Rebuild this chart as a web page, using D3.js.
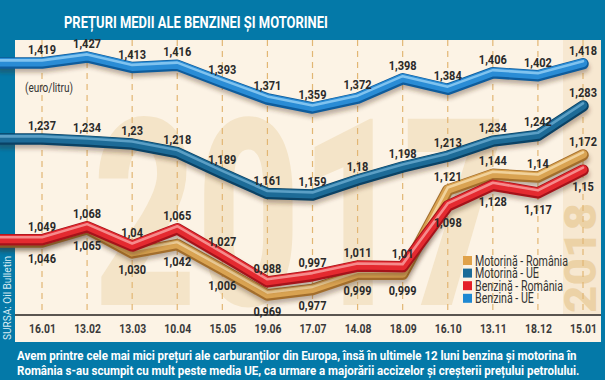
<!DOCTYPE html>
<html><head><meta charset="utf-8">
<script src="https://cdn.jsdelivr.net/npm/d3@7"></script>
<style>body{margin:0;background:#0479A8;} svg{display:block}</style>
</head><body>
<svg id="chart" width="605" height="380"></svg>
<script>
// ---------- DATA ----------
const dates = ["16.01","13.02","13.03","10.04","15.05","19.06","17.07","14.08","18.09","16.10","13.11","18.12","15.01"];
const benzinaUE  = ["1,419","1,427","1,413","1,416","1,393","1,371","1,359","1,372","1,398","1,384","1,406","1,402","1,418"];
const motorinaUE = ["1,237","1,234","1,23","1,218","1,189","1,161","1,159","1,18","1,198","1,213","1,234","1,242","1,283"];
const motorinaRO = ["1,046","1,065","1,030","1,042","1,006","0,969","0,977","0,999","0,999","1,121","1,144","1,14","1,172"];
const benzinaRO  = ["1,049","1,068","1,04","1,065","1,027","0,988","0,997","1,011","1,01","1,098","1,128","1,117","1,15"];
const seriesNames = ["Motorină - România","Motorină - UE","Benzină - România","Benzină - UE"];
const title = "PREȚURI MEDII ALE BENZINEI ȘI MOTORINEI";
const unitLabel = "(euro/litru)";
const sourceLabel = "SURSA: Oil Bulletin";
const footnote = [
  "Avem printre cele mai mici prețuri ale carburanților din Europa, însă în ultimele 12 luni benzina și motorina în",
  "România s-au scumpit cu mult peste media UE, ca urmare a majorării accizelor și creșterii prețului petrolului."
];
const yearLabels = ["2017","2018"];

const num = s => parseFloat(s.replace(",", "."));

// ---------- SETUP ----------
const W = 605, H = 380;
const svg = d3.select("#chart");
const FONT = "Roboto, 'Liberation Sans', sans-serif";
const BLUE = "#0479A8";
const panel = {x0: 15, x1: 601, y0: 40, y1: 342};
const axisY = 315;

// place a text at (x,y) and squeeze it horizontally to a target width
function fit(sel, x, y, w, extra) {
  sel.each(function() {
    const n = this.getComputedTextLength();
    const k = w / n;
    d3.select(this).attr("transform", `translate(${x},${y}) ${extra || ""} scale(${k},1)`);
  });
}

const defs = svg.append("defs");
defs.append("filter").attr("id","blur").attr("x","-10%").attr("y","-50%").attr("width","120%").attr("height","200%")
  .append("feGaussianBlur").attr("stdDeviation", 2.2);
defs.append("clipPath").attr("id","panelClip").append("rect")
  .attr("x", 0).attr("y", panel.y0).attr("width", panel.x1).attr("height", axisY - panel.y0);

svg.append("rect").attr("width", W).attr("height", H).attr("fill", BLUE);
svg.append("rect").attr("x", panel.x0).attr("y", panel.y0)
  .attr("width", panel.x1 - panel.x0).attr("height", panel.y1 - panel.y0).attr("fill", "#FCF3E5");
// 2018 band
svg.append("rect").attr("x", 563).attr("y", panel.y0).attr("width", panel.x1 - 563)
  .attr("height", axisY - panel.y0).attr("fill", "#F7E8D1");

// scales
const x = d3.scalePoint().domain(dates).range([42, 583]);
const yBUE = d3.scaleLinear().domain([1.359, 1.427]).range([108, 57]);
const yMUE = d3.scaleLinear().domain([1.159, 1.283]).range([195, 106]);
const yRO  = d3.scaleLinear().domain([0.969, 1.172]).range([295, 155]);

// big year texts
svg.append("text").text(yearLabels[0])
  .attr("transform", "translate(300,305) scale(0.68,1)")
  .attr("text-anchor", "middle").attr("font-family", FONT).attr("font-weight", 900)
  .attr("font-size", 262).attr("fill", "#F4E4C8");
svg.append("text").text(yearLabels[1])
  .attr("text-anchor", "middle").attr("font-family", FONT).attr("font-weight", 900)
  .attr("font-size", 44).attr("fill", "#ECD2A6")
  .call(fit, 596, 258, 110, "rotate(-90)");

// dashed gridlines
svg.append("g").selectAll("line").data(dates).join("line")
  .attr("x1", d => x(d)).attr("x2", d => x(d))
  .attr("y1", panel.y0).attr("y2", axisY)
  .attr("stroke", "#E2B674").attr("stroke-width", 1.2).attr("stroke-dasharray", "6,5");

// axis
const xAxis = d3.axisBottom(x).tickSize(0).tickPadding(0);
const ax = svg.append("g").attr("transform", `translate(0,${axisY})`).call(xAxis);
ax.select(".domain").remove();
svg.append("line").attr("x1", panel.x0).attr("x2", panel.x1).attr("y1", axisY).attr("y2", axisY)
  .attr("stroke", "#5a5550").attr("stroke-width", 2);
ax.selectAll(".tick text")
  .attr("font-family", FONT).attr("font-weight", 700).attr("font-size", 13)
  .attr("fill", "#3a3a3a").attr("y", 0).attr("dy", 0)
  .attr("transform", "translate(0,18) scale(0.8,1)");

// tubes
const line = d3.line().curve(d3.curveLinear);
function tube(values, yScale, col) {
  const pts = values.map((s, i) => [x(dates[i]), yScale(num(s))]);
  pts.unshift([0, pts[0][1]]);
  const d = line(pts);
  const g = svg.append("g").attr("clip-path", "url(#panelClip)");
  g.append("path").attr("d", d).attr("transform", "translate(1,4)")
    .attr("fill", "none").attr("stroke", "rgba(70,45,20,0.35)").attr("stroke-width", 11)
    .attr("stroke-linejoin", "round").attr("stroke-linecap", "round").attr("filter", "url(#blur)");
  g.append("path").attr("d", d).attr("fill", "none").attr("stroke", col.dark).attr("stroke-width", 11.5)
    .attr("stroke-linejoin", "round").attr("stroke-linecap", "round");
  g.append("path").attr("d", d).attr("fill", "none").attr("stroke", col.main).attr("stroke-width", 8.5)
    .attr("transform", "translate(0,-0.8)")
    .attr("stroke-linejoin", "round").attr("stroke-linecap", "round");
  g.append("path").attr("d", d).attr("fill", "none").attr("stroke", col.light).attr("stroke-width", 2.6)
    .attr("transform", "translate(0,-2.6)").attr("opacity", 0.85)
    .attr("stroke-linejoin", "round").attr("stroke-linecap", "round");
}
const C = {
  bue: {dark: "#0E5C9C", main: "#2A8CD5", light: "#8FCDF3", key: "#1E88D2"},
  mue: {dark: "#0A4265", main: "#1D6B97", light: "#66A8CC", key: "#1B6B98"},
  mro: {dark: "#A36E2C", main: "#D9A352", light: "#F5DBA8", key: "#E0A24A"},
  bro: {dark: "#A5131A", main: "#E42A30", light: "#F89C9C", key: "#E41E26"}
};
tube(benzinaUE, yBUE, C.bue);
tube(motorinaUE, yMUE, C.mue);
tube(motorinaRO, yRO, C.mro);
tube(benzinaRO, yRO, C.bro);

// value labels
function labels(values, yScale, posFn) {
  svg.append("g").selectAll("text").data(values).join("text")
    .text(d => d)
    .attr("transform", (d, i) => {
      const above = posFn(i);
      const yy = yScale(num(d)) + (above ? -9 : 21);
      return `translate(${x(dates[i])},${yy}) scale(0.88,1)`;
    })
    .attr("text-anchor", "middle").attr("font-family", FONT).attr("font-weight", 700)
    .attr("font-size", 12.5).attr("fill", "#2a2a2a");
}
labels(benzinaUE, yBUE, () => true);
labels(motorinaUE, yMUE, () => true);
labels(motorinaRO, yRO, i => num(motorinaRO[i]) > num(benzinaRO[i]));
labels(benzinaRO, yRO, i => num(benzinaRO[i]) > num(motorinaRO[i]));

// unit label
svg.append("text").text(unitLabel)
  .attr("font-family", FONT).attr("font-size", 12).attr("fill", "#333")
  .call(fit, 25, 92, 48);

// legend
const legendCols = [C.mro.key, C.mue.key, C.bro.key, C.bue.key];
const lg = svg.append("g").attr("transform", "translate(463,256)");
const li = lg.selectAll("g").data(seriesNames).join("g")
  .attr("transform", (d, i) => `translate(0,${i * 12.6})`);
li.append("rect").attr("width", 9).attr("height", 9).attr("fill", (d, i) => legendCols[i]);
const lt = li.append("text").text(d => d)
  .attr("font-family", FONT).attr("font-size", 14).attr("fill", "#333");
{
  const n0 = lt.node().getComputedTextLength();
  const k = 93 / n0;
  lt.attr("transform", `translate(12,9.5) scale(${k},1)`);
}

// title
svg.append("text").text(title)
  .attr("font-family", FONT).attr("font-weight", 700).attr("font-size", 17).attr("fill", "#fff")
  .call(fit, 64, 28, 264);

// source
svg.append("text").text(sourceLabel).attr("text-anchor", "middle")
  .attr("font-family", FONT).attr("font-size", 11).attr("fill", "#D6EBF3")
  .call(fit, 11, 298, 84, "rotate(-90)");

// footnote
svg.append("g").selectAll("text").data(footnote).join("text")
  .text(d => d)
  .attr("font-family", FONT).attr("font-weight", 700).attr("font-size", 12.5).attr("fill", "#fff")
  .each(function(d, i) { d3.select(this).call(fit, 17, 360 + i * 15, i === 0 ? 560 : 563); });
</script>
</body></html>
